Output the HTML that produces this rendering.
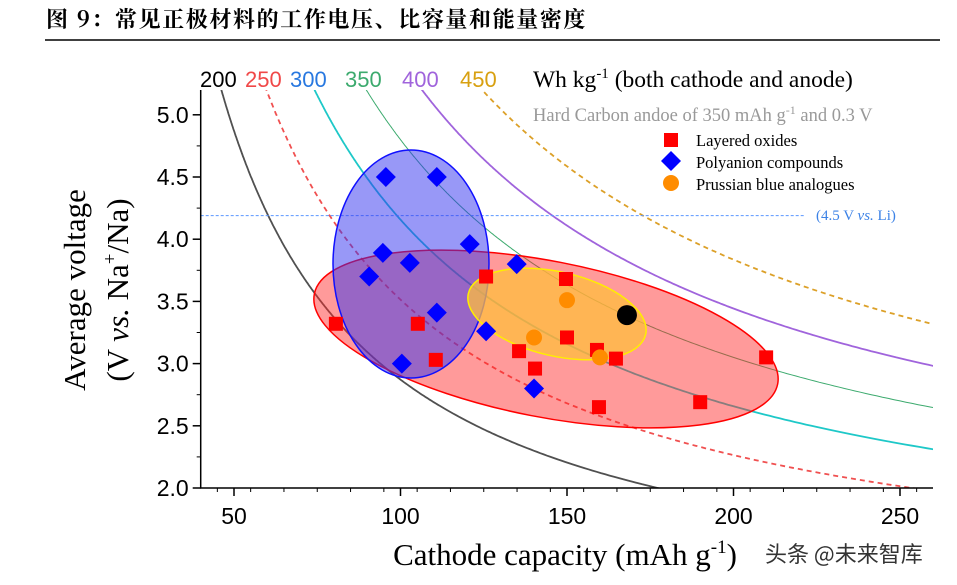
<!DOCTYPE html>
<html><head><meta charset="utf-8">
<style>
body{margin:0;background:#fff;width:957px;height:585px;overflow:hidden;font-family:"Liberation Serif","Noto Serif CJK SC",serif;}
svg{position:absolute;left:0;top:0}
</style></head><body>
<svg id="c" width="957" height="585" xmlns="http://www.w3.org/2000/svg"></svg>
<script>
const xTicks=[50,100,150,200,250];
const yTicks=[2.0,2.5,3.0,3.5,4.0,4.5,5.0];
const energyLevels=[200,250,300,350,400,450];
const energyColors=['#505050','#f05050','#1ec8c8','#3caa6e','#a064dc','#dca028'];
const energyDashed=[false,true,false,false,false,true];
const layeredX=[80.6,105.2,110.6,125.7,135.6,140.4,149.7,150,159,164.7,159.6,190,209.8];
const layeredY=[3.32,3.32,3.03,3.70,3.10,2.96,3.68,3.21,3.11,3.04,2.65,2.69,3.05];
const polyX=[95.6,110.9,94.7,102.8,90.6,120.8,134.9,110.9,125.7,100.4,140.1];
const polyY=[4.50,4.50,3.89,3.81,3.70,3.96,3.80,3.41,3.26,3.00,2.80];
const pbaX=[150,140.1,159.9];
const pbaY=[3.51,3.21,3.05];
const refX=[168];const refY=[3.39];
const anodeCap=350, anodeV=0.3, liLine=4.19;

const svg=document.getElementById('c');const NS='http://www.w3.org/2000/svg';
const X0=200.7,XR=933,YT=90,YB=488;
const sx=v=>X0+(v-40)*3.33; const sy=v=>488-(v-2)*124.4;
function mk(t,a,p){const e=document.createElementNS(NS,t);for(const k in a)e.setAttribute(k,a[k]);(p||svg).appendChild(e);return e;}
function tx(s,a,p){const e=mk('text',a,p);e.textContent=s;return e;}

const t=tx('图 9：常见正极材料的工作电压、比容量和能量密度',{x:46,y:27,'font-size':22,'font-weight':'bold','letter-spacing':'1.6','font-family':'"Noto Serif CJK SC","Noto Sans CJK SC",serif'});

const tl=mk('line',{x1:45,y1:40,x2:940,y2:40,stroke:'#000','stroke-width':1.5});


mk('clipPath',{id:'pc'},mk('defs',{}));
const cp=svg.querySelector('#pc');mk('rect',{x:X0,y:YT,width:XR-X0,height:YB-YT},cp);
const g=mk('g',{'clip-path':'url(#pc)'});

energyLevels.forEach((E,i)=>{let d='';
 for(let v=1.9;v<=5.4;v+=0.01){const q=E/(v-anodeV);if(q>=anodeCap)continue;const qc=q*anodeCap/(anodeCap-q);d+=(d?'L':'M')+sx(qc).toFixed(1)+','+sy(v).toFixed(1);}
 const p=mk('path',{d:d,fill:'none',stroke:energyColors[i],'stroke-width':energyLevels[i]==350?1:1.8},g);
 if(energyDashed[i])p.setAttribute('stroke-dasharray','5,4');
 
});
const ll=mk('line',{x1:X0,x2:805,y1:sy(liLine),y2:sy(liLine),stroke:'#5a96ff','stroke-width':1,'stroke-dasharray':'3,2'},g);


const e1=mk('ellipse',{cx:546,cy:339,rx:236,ry:78,transform:'rotate(11 546 339)',fill:'rgba(255,40,40,0.47)',stroke:'#f00','stroke-width':1.5},g);

const e2=mk('ellipse',{cx:411,cy:264,rx:78,ry:114,fill:'rgba(50,50,240,0.5)',stroke:'#1010ff','stroke-width':1.5},g);

const e3=mk('ellipse',{cx:557,cy:314,rx:91,ry:42,transform:'rotate(13 557 314)',fill:'rgba(255,190,60,0.75)',stroke:'#ffee00','stroke-width':1.5},g);


layeredX.forEach((v,i)=>{const r=mk('rect',{x:sx(v)-7,y:sy(layeredY[i])-7,width:14,height:14,fill:'#f00'},g);
 });
polyX.forEach((v,i)=>{const x=sx(v),y=sy(polyY[i]);const r=mk('polygon',{points:`${x},${y-10} ${x+10},${y} ${x},${y+10} ${x-10},${y}`,fill:'#00f'},g);
 });
pbaX.forEach((v,i)=>{const r=mk('circle',{cx:sx(v),cy:sy(pbaY[i]),r:8,fill:'#ff8c00'},g);
 });
refX.forEach((v,i)=>{const r=mk('circle',{cx:sx(v),cy:sy(refY[i]),r:10,fill:'#000'},g);
 });

const ax=mk('path',{d:`M${X0},${YT}V${YB}H${XR}`,fill:'none',stroke:'#000','stroke-width':1.5});

xTicks.forEach(v=>{mk('line',{x1:sx(v),x2:sx(v),y1:YB,y2:YB+8,stroke:'#000','stroke-width':1.5});
 const l=tx(v,{x:sx(v),y:YB+36,'text-anchor':'middle','font-size':23,'font-family':'"Liberation Sans",sans-serif'});
 });
for(let v=45;v<=260;v+=10) mk('line',{x1:sx(v),x2:sx(v),y1:YB,y2:YB+4,stroke:'#000'});
yTicks.forEach(v=>{mk('line',{x1:X0-8,x2:X0,y1:sy(v),y2:sy(v),stroke:'#000','stroke-width':1.5});
 const l=tx(v.toFixed(1),{x:X0-12,y:sy(v)+8,'text-anchor':'end','font-size':23,'font-family':'"Liberation Sans",sans-serif'});
 });
for(let v=2.25;v<=5.2;v+=0.5) mk('line',{x1:X0-4,x2:X0,y1:sy(v),y2:sy(v),stroke:'#000'});

const xt=tx('',{x:565,y:565,'text-anchor':'middle','font-size':31});
xt.innerHTML='Cathode capacity (mAh g<tspan dy="-12" font-size="19">-1</tspan><tspan dy="12">)</tspan>';

const yt1=tx('Average voltage',{x:0,y:0,'text-anchor':'middle','font-size':31,transform:'translate(85,290) rotate(-90)'});

const yt2=tx('',{x:0,y:0,'text-anchor':'middle','font-size':31,transform:'translate(128,290) rotate(-90)'});
yt2.innerHTML='(V <tspan font-style="italic">vs.</tspan> Na<tspan dy="-12" font-size="19">+</tspan><tspan dy="12">/Na)</tspan>';


const lx=[200,245,290,345,402,460];
energyLevels.forEach((E,i)=>{const l=tx(E,{x:lx[i],y:87,'font-size':22,fill:['#000','#f04848','#2878e0','#3caa6e','#a064dc','#d8a010'][i],'font-family':'"Liberation Sans",sans-serif'});
 });
const wl=tx('',{x:533,y:87,'font-size':23.5});
wl.innerHTML='Wh kg<tspan dy="-9" font-size="15">-1</tspan><tspan dy="9"> (both cathode and anode)</tspan>';

const hl=tx('',{x:533,y:121,'font-size':18.5,fill:'#999'});
hl.innerHTML='Hard Carbon andoe of 350 mAh g<tspan dy="-7" font-size="12">-1</tspan><tspan dy="7"> and 0.3 V</tspan>';


const lg=mk('g',{});
mk('rect',{x:664,y:133,width:14,height:14,fill:'#f00'},lg);
mk('polygon',{points:'671,151 681,161 671,171 661,161',fill:'#00f'},lg);
mk('circle',{cx:671,cy:183,r:8,fill:'#ff8c00'},lg);
['Layered oxides','Polyanion compounds','Prussian blue analogues'].forEach((s,i)=>{const l=tx(s,{x:696,y:146+i*22,'font-size':16.5},lg);
 });
const li=tx('',{x:816,y:220,'font-size':15,fill:'#3c82e6'});
li.innerHTML='(4.5 V <tspan font-style="italic">vs.</tspan> Li)';


const wm=tx('头条 @未来智库',{x:765,y:562,'font-size':22,fill:'#333','font-family':'"Noto Sans CJK SC",sans-serif'});

</script>
</body></html>
